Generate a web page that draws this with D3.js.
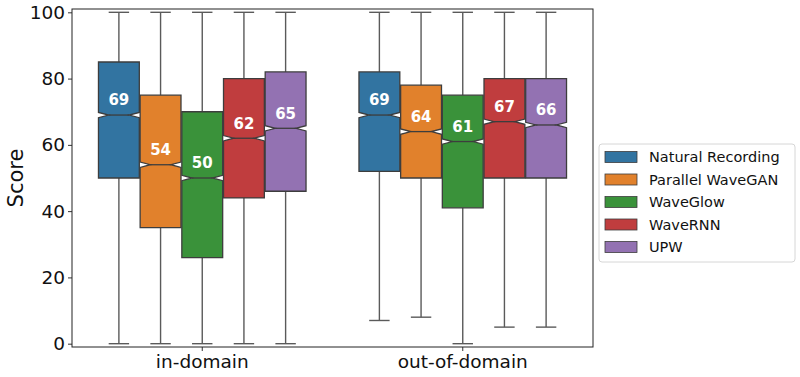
<!DOCTYPE html>
<html>
<head>
<meta charset="utf-8">
<script src="https://cdn.jsdelivr.net/npm/d3@7"></script>
<style>
  body { margin: 0; background: #fff; }
  text { font-family: "DejaVu Sans", sans-serif; }
</style>
</head>
<body>
<svg id="chart" width="800" height="377"></svg>
<script>
// data
const domains = ['in-domain', 'out-of-domain'];
const systems = ['Natural Recording', 'Parallel WaveGAN', 'WaveGlow', 'WaveRNN', 'UPW'];
const colors = ['#3274a1', '#e1812c', '#3a923a', '#c03d3e', '#9372b2'];

// per domain, per system
const medians = [[69, 54, 50, 62, 65], [69, 64, 61, 67, 66]];
const q1s = [[50, 35, 26, 44, 46], [52, 50, 41, 50, 50]];
const q3s = [[85, 75, 70, 80, 82], [82, 78, 75, 80, 80]];
const whiskLow = [[0, 0, 0, 0, 0], [7, 8, 0, 5, 5]];
const whiskHigh = [[100, 100, 100, 100, 100], [100, 100, 100, 100, 100]];
const notchCI = 0.8;
const yTicks = [0, 20, 40, 60, 80, 100];

const svg = d3.select('#chart');
const pLeft = 72, pRight = 593, pTop = 9, pBottom = 347;

const x = d3.scaleBand().domain(domains).range([pLeft, pRight]);
const inner = d3.scaleBand().domain(systems).range([0, x.bandwidth() * 0.8]);
const y = d3.scaleLinear().domain([-1, 101]).range([pBottom, pTop]);
const edge = '#3d3d3d';

// axes
const yAxis = svg.append('g').attr('transform', `translate(${pLeft},0)`)
  .call(d3.axisLeft(y).tickValues(yTicks).tickSize(4).tickPadding(3));
const xAxis = svg.append('g').attr('transform', `translate(0,${pBottom})`)
  .call(d3.axisBottom(x).tickSize(4).tickPadding(4));
[yAxis, xAxis].forEach(a => {
  a.select('.domain').remove();
  a.selectAll('line').attr('stroke', '#333');
  a.selectAll('text').attr('fill', '#111').style('font-size', '18.5px');
});

svg.append('text')
  .attr('transform', `translate(23,178) rotate(-90)`)
  .attr('text-anchor', 'middle')
  .style('font-size', '21px')
  .attr('fill', '#111')
  .text('Score');

const plot = svg.append('g');

domains.forEach((dom, di) => {
  const g0 = x(dom) + x.bandwidth() * 0.1;
  systems.forEach((sys, si) => {
    const bw = inner.bandwidth() * 0.98;
    const cx = g0 + inner(sys) + inner.bandwidth() / 2;
    const x0 = cx - bw / 2, x1 = cx + bw / 2;
    const nl = cx - bw / 4, nr = cx + bw / 4;
    const med = medians[di][si];

    // whiskers + caps
    const wl = plot.append('g').attr('stroke', '#5a5a5a').attr('stroke-width', 1.4);
    wl.append('line').attr('x1', cx).attr('x2', cx)
      .attr('y1', y(q1s[di][si])).attr('y2', y(whiskLow[di][si]));
    wl.append('line').attr('x1', cx).attr('x2', cx)
      .attr('y1', y(q3s[di][si])).attr('y2', y(whiskHigh[di][si]));
    wl.append('line').attr('x1', nl).attr('x2', nr)
      .attr('y1', y(whiskLow[di][si])).attr('y2', y(whiskLow[di][si]));
    wl.append('line').attr('x1', nl).attr('x2', nr)
      .attr('y1', y(whiskHigh[di][si])).attr('y2', y(whiskHigh[di][si]));

    // notched box
    const p = d3.path();
    p.moveTo(x0, y(q1s[di][si]));
    p.lineTo(x0, y(med - notchCI));
    p.lineTo(nl, y(med));
    p.lineTo(x0, y(med + notchCI));
    p.lineTo(x0, y(q3s[di][si]));
    p.lineTo(x1, y(q3s[di][si]));
    p.lineTo(x1, y(med + notchCI));
    p.lineTo(nr, y(med));
    p.lineTo(x1, y(med - notchCI));
    p.lineTo(x1, y(q1s[di][si]));
    p.closePath();
    plot.append('path').attr('d', p.toString())
      .attr('fill', colors[si]).attr('stroke', edge).attr('stroke-width', 1.3);

    plot.append('line').attr('x1', nl).attr('x2', nr)
      .attr('y1', y(med)).attr('y2', y(med))
      .attr('stroke', edge).attr('stroke-width', 1.3);

    plot.append('text')
      .attr('x', cx).attr('y', y(med + 4.4))
      .attr('text-anchor', 'middle').attr('dominant-baseline', 'central')
      .attr('fill', '#fff').style('font-size', '15px').style('font-weight', 'bold')
      .text(med);
  });
});

// frame
svg.append('rect').attr('x', pLeft).attr('y', pTop)
  .attr('width', pRight - pLeft).attr('height', pBottom - pTop)
  .attr('fill', 'none').attr('stroke', '#222').attr('stroke-width', 1);

// legend
const lg = svg.append('g').attr('transform', 'translate(599,144)');
lg.append('rect').attr('width', 196).attr('height', 118).attr('rx', 3)
  .attr('fill', '#fff').attr('stroke', '#d6d6d6');
systems.forEach((s, i) => {
  const row = lg.append('g').attr('transform', `translate(0,${13 + i * 22.5})`);
  row.append('rect').attr('x', 6).attr('y', -5.5).attr('width', 32).attr('height', 11)
    .attr('fill', colors[i]).attr('stroke', edge).attr('stroke-width', 0.8);
  row.append('text').attr('x', 50).attr('y', 0).attr('dominant-baseline', 'central')
    .style('font-size', '14.5px').attr('fill', '#111').text(s);
});
</script>
</body>
</html>
